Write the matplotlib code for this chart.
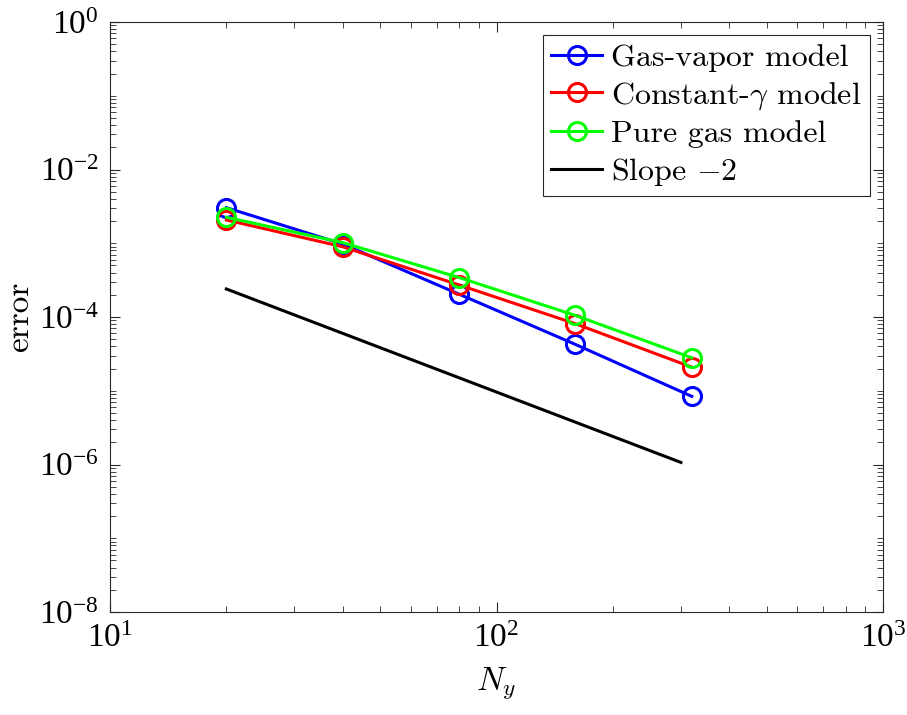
import matplotlib
matplotlib.use("Agg")
import matplotlib.pyplot as plt
from matplotlib.ticker import LogLocator, FuncFormatter, NullFormatter
import numpy as np

plt.rcParams['mathtext.fontset'] = 'cm'
plt.rcParams['axes.unicode_minus'] = False

N = [20, 40, 80, 160, 320]
err_gas_vapor = [3.04e-3, 9.75e-4, 2.04e-4, 4.25e-5, 8.4e-6]
err_const_gamma = [2.07e-3, 8.96e-4, 2.72e-4, 8.1e-5, 2.09e-5]
err_pure_gas = [2.25e-3, 1.02e-3, 3.43e-4, 1.05e-4, 2.8e-5]
slope_N = [20, 300]
slope_err = [2.4e-4, 1.067e-6]

labels = ['Gas-vapor model', r'Constant-$\gamma$ model', 'Pure gas model', r'Slope $-2$']

fig = plt.figure(figsize=(9.07, 7.15), dpi=100)
ax = fig.add_axes([110/907, 103/715, (883-110)/907, (612-22)/715])

lw = 2.2
ms = 13
ax.plot(N, err_gas_vapor, '-o', color=(0, 0, 1), lw=lw, ms=ms, mfc='none', mew=lw, label=labels[0])
ax.plot(N, err_const_gamma, '-o', color=(1, 0, 0), lw=lw, ms=ms, mfc='none', mew=lw, label=labels[1])
ax.plot(N, err_pure_gas, '-o', color=(0, 1, 0), lw=lw, ms=ms, mfc='none', mew=lw, label=labels[2])
ax.plot(slope_N, slope_err, '-', color='k', lw=lw, label=labels[3])

ax.set_xscale('log')
ax.set_yscale('log')
ax.set_xlim(10, 1000)
ax.set_ylim(1e-8, 1)

ax.yaxis.set_major_locator(LogLocator(base=100))
ax.yaxis.set_minor_locator(LogLocator(base=10, subs=np.arange(1, 10), numticks=30))
ax.yaxis.set_minor_formatter(NullFormatter())
ax.xaxis.set_major_locator(LogLocator(base=10))
ax.xaxis.set_minor_locator(LogLocator(base=10, subs=np.arange(2, 10), numticks=30))
ax.xaxis.set_minor_formatter(NullFormatter())

fmt = FuncFormatter(lambda v, p: r'$\mathdefault{10^{%d}}$' % int(round(np.log10(v))))
ax.xaxis.set_major_formatter(fmt)
ax.yaxis.set_major_formatter(fmt)

axc = (0.15, 0.15, 0.15)
for s in ax.spines.values():
    s.set_color(axc)
    s.set_linewidth(0.8)
ax.tick_params(which='both', direction='in', top=True, right=True, colors=axc)
ax.tick_params(which='major', length=7, width=0.8, labelsize=24, pad=8)
ax.tick_params(which='minor', length=4, width=0.6)
for t in ax.get_xticklabels() + ax.get_yticklabels():
    t.set_fontfamily('Liberation Serif')
    t.set_color('k')

ax.set_xlabel(r'$N_y$', fontsize=24, labelpad=8)
ax.set_ylabel('error', fontsize=24, family='cmr10', labelpad=3)

leg = ax.legend(loc='upper right', prop={'family': 'cmr10', 'size': 23},
                frameon=True, fancybox=False, edgecolor=axc, framealpha=1,
                borderaxespad=0.42, handlelength=1.6, handletextpad=0.28,
                labelspacing=0.25, borderpad=0.25)
leg.get_frame().set_linewidth(0.8)

fig.savefig('out.png', dpi=100)
